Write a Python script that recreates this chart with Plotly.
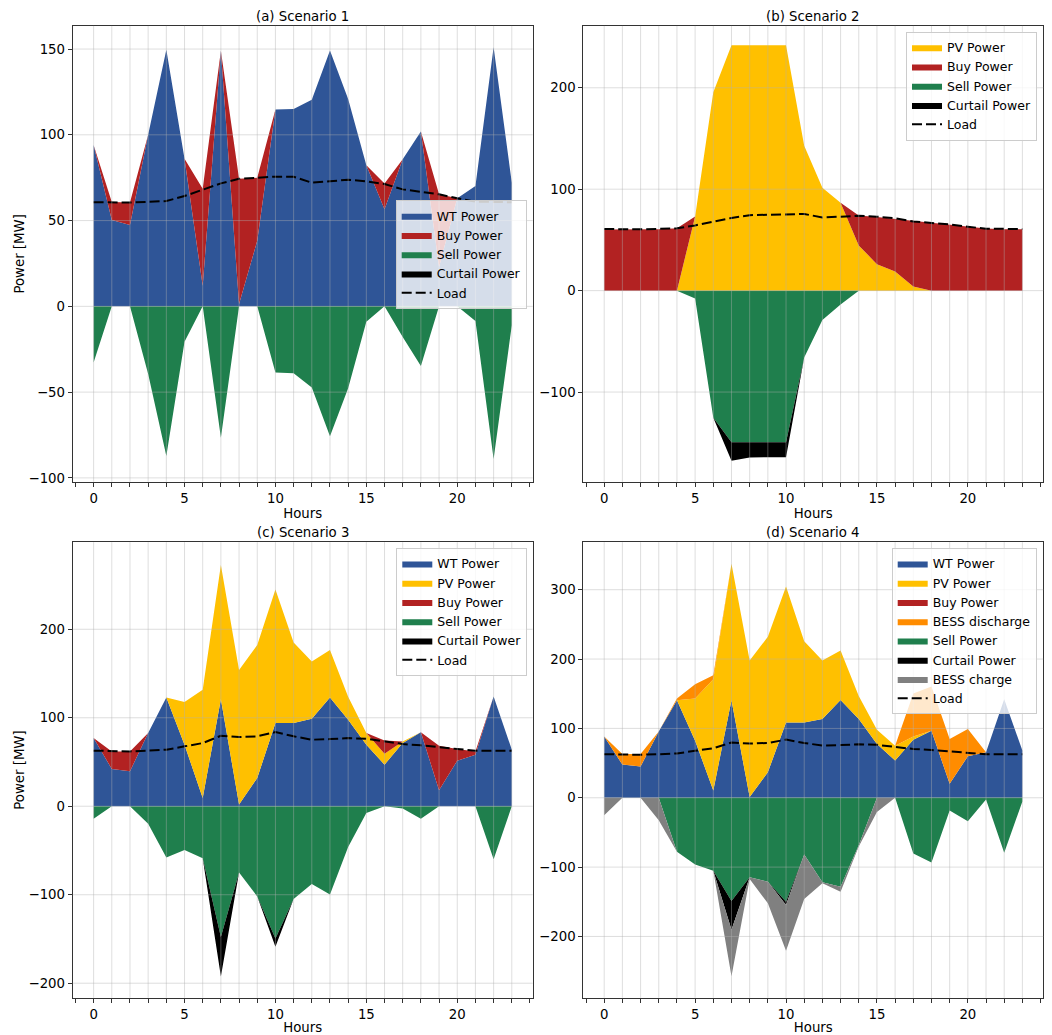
import plotly.graph_objects as go

# ---------------- data ----------------
hours = list(range(24))

load_s12 = [60.7, 60.5, 60.5, 60.9, 61.4, 64.3, 68.2, 71.7, 74.4, 75.0, 75.6, 75.6,
            72.1, 72.9, 73.8, 72.9, 71.3, 68.2, 66.7, 65.3, 63.0, 61.0, 60.9, 60.7]
load_s34 = [62.8, 62.0, 62.0, 62.8, 63.9, 67.7, 71.4, 79.7, 78.2, 79.0, 83.8, 79.0,
            75.2, 75.9, 77.0, 76.3, 73.7, 70.3, 68.8, 66.5, 64.7, 62.8, 62.8, 62.8]

# Scenario 1: wind only
wt_s1 = [94.0, 50.4, 47.5, 100.0, 149.6, 86.0, 12.0, 149.0, 1.4, 38.2, 114.7, 115.1,
         120.5, 149.2, 120.9, 82.2, 56.6, 85.7, 101.9, 23.0, 63.0, 70.2, 151.0, 72.1]
buy_s1 = [0, 10.5, 13.0, 0, 0, 0, 56.6, 0, 73.0, 36.8, 0, 0,
          0, 0, 0, 0, 15.0, 0, 0, 42.3, 0, 0, 0, 0]
sell_s1 = [32.8, 0, 0, 39.5, 87.3, 20.7, 0, 76.6, 0, 0, 38.6, 39.0,
           47.3, 75.7, 47.7, 9.0, 0, 17.8, 34.7, 0, 0, 8.5, 89.0, 11.0]
curt_s1 = [0] * 24

# Scenario 2: PV only
pv_s2 = [0, 0, 0, 0, 0, 73.0, 195.7, 242.0, 242.0, 242.0, 242.0, 142.8,
         101.5, 86.6, 44.6, 26.1, 18.8, 4.0, 0, 0, 0, 0, 0, 0]
buy_s2 = [60.2, 60.2, 60.2, 60.5, 61.5, 0, 0, 0, 0, 0, 0, 0,
          0, 0, 29.4, 46.6, 52.0, 64.4, 66.8, 65.1, 62.8, 61.2, 60.5, 60.5]
sell_s2 = [0, 0, 0, 0, 0, 7.8, 125.4, 149.5, 149.5, 149.5, 149.5, 65.8,
           29.0, 13.7, 0, 0, 0, 0, 0, 0, 0, 0, 0, 0]
curt_s2 = [0, 0, 0, 0, 0, 0, 0, 18.3, 15.0, 14.7, 14.7, 0,
           0, 0, 0, 0, 0, 0, 0, 0, 0, 0, 0, 0]

# Scenario 3: wind + PV
wt_s3 = [77.0, 42.1, 39.5, 82.7, 123.0, 69.5, 9.4, 121.0, 1.9, 32.0, 94.0, 94.0,
         98.9, 123.0, 97.7, 69.5, 47.0, 71.4, 83.5, 18.0, 51.5, 58.3, 124.0, 64.0]
pv_s3 = [0, 0, 0, 0, 0, 48.2, 122.2, 151.6, 152.1, 150.3, 151.0, 91.0,
         64.6, 53.7, 26.0, 13.2, 12.4, 1.9, 0, 0, 0, 0, 0, 0]
buy_s3 = [0, 19.9, 22.5, 0, 0, 0, 0, 0, 0, 0, 0, 0,
          0, 0, 0, 0, 15.0, 0, 0, 50.4, 13.2, 3.7, 0, 0]
sell_s3 = [14.2, 0, 0, 19.8, 58.0, 49.3, 58.7, 147.7, 74.8, 102.0, 149.5, 104.7,
           87.9, 99.8, 46.0, 7.5, 0, 2.6, 14.2, 0, 0, 0, 59.8, 0]
curt_s3 = [0, 0, 0, 0, 0, 0, 0, 44.8, 0, 0, 9.4, 0,
           0, 0, 0, 0, 0, 0, 0, 0, 0, 0, 0, 0]

# Scenario 4: wind + PV + battery
wt_s4 = [88.5, 47.8, 45.0, 95.7, 140.7, 82.3, 10.5, 140.7, 1.0, 36.8, 108.6, 108.6,
         113.4, 141.1, 113.4, 77.5, 53.6, 83.7, 96.7, 20.1, 59.8, 65.6, 142.1, 68.0]
pv_s4 = [0, 0, 0, 0, 0, 60.7, 160.3, 196.6, 197.0, 195.2, 196.2, 117.2,
         84.6, 71.3, 33.5, 20.6, 21.5, 4.8, 0, 0, 0, 0, 0, 0]
buy_s4 = [0] * 24
dis_s4 = [0, 15.4, 18.2, 0, 2.3, 20.6, 5.8, 0, 0, 0, 0, 0,
          0, 0, 0, 0, 0, 62.0, 63.6, 64.6, 39.2, 0, 0, 0]
sell_s4 = [0, 0, 0, 0, 78.0, 96.2, 105.3, 148.8, 114.8, 121.0, 149.8, 81.8,
           122.0, 128.2, 68.4, 0, 0, 80.4, 93.3, 18.2, 34.0, 2.4, 79.4, 5.3]
curt_s4 = [0, 0, 0, 0, 0, 0, 0, 41.6, 0, 0, 4.8, 0,
           0, 0, 0, 0, 0, 0, 0, 0, 0, 0, 0, 0]
chg_s4 = [25.4, 0, 0, 32.5, 0, 0, 0, 67.0, 2.4, 31.2, 66.1, 64.2,
          1.4, 7.2, 2.0, 20.6, 0, 0, 0, 0, 0, 0, 0, 0]

titles = ["(a) Scenario 1", "(b) Scenario 2", "(c) Scenario 3", "(d) Scenario 4"]
y_ranges = [[-102.3, 163.5], [-188.5, 261.0], [-216.5, 298.4], [-288.5, 368.5]]
y_ticks = [[-100, -50, 0, 50, 100, 150], [-100, 0, 100, 200],
           [-200, -100, 0, 100, 200], [-200, -100, 0, 100, 200, 300]]
x_ticks = [0, 5, 10, 15, 20]

COLORS = {
    "WT Power": "#2f5597",
    "PV Power": "#ffc000",
    "Buy Power": "#b22222",
    "BESS discharge": "#ff8c00",
    "Sell Power": "#1f7f4d",
    "Curtail Power": "#000000",
    "BESS charge": "#808080",
}

# (positive stack, negative stack, load) per panel
panels = [
    ([("WT Power", wt_s1), ("Buy Power", buy_s1)],
     [("Sell Power", sell_s1), ("Curtail Power", curt_s1)], load_s12),
    ([("PV Power", pv_s2), ("Buy Power", buy_s2)],
     [("Sell Power", sell_s2), ("Curtail Power", curt_s2)], load_s12),
    ([("WT Power", wt_s3), ("PV Power", pv_s3), ("Buy Power", buy_s3)],
     [("Sell Power", sell_s3), ("Curtail Power", curt_s3)], load_s34),
    ([("WT Power", wt_s4), ("PV Power", pv_s4), ("Buy Power", buy_s4),
      ("BESS discharge", dis_s4)],
     [("Sell Power", sell_s4), ("Curtail Power", curt_s4), ("BESS charge", chg_s4)],
     load_s34),
]

W, H = 1052, 1035
x_domains = [[72.7 / W, 532.7 / W], [583.3 / W, 1043.3 / W]]
y_domains = [[1 - 483.7 / H, 1 - 26.0 / H], [1 - 1001.7 / H, 1 - 544.3 / H]]

# legend anchor points (paper coords)
legend_pos = [
    dict(x=526.7 / W, y=1 - 255.5 / H, xanchor="right", yanchor="middle"),
    dict(x=1037.0 / W, y=1 - 31.7 / H, xanchor="right", yanchor="top"),
    dict(x=527.3 / W, y=1 - 550.0 / H, xanchor="right", yanchor="top"),
    dict(x=1036.7 / W, y=1 - 550.0 / H, xanchor="right", yanchor="top"),
]

FONT = "DejaVu Sans"
GRID = "rgba(176,176,176,0.42)"
EDGE = "#333333"

fig = go.Figure()
layout = dict(
    width=W, height=H, autosize=False,
    margin=dict(l=0, r=0, t=0, b=0),
    paper_bgcolor="white", plot_bgcolor="white",
    font=dict(family=FONT, size=13.3, color="black"),
    showlegend=True,
)
annotations = []
shapes = []

for i, (pos, neg, load) in enumerate(panels):
    r, c = divmod(i, 2)
    n = i + 1
    xa = "x" if n == 1 else f"x{n}"
    ya = "y" if n == 1 else f"y{n}"
    lg = "legend" if n == 1 else f"legend{n}"

    for name, vals in pos:
        fig.add_trace(go.Scatter(
            x=hours, y=vals, name=name, mode="lines",
            stackgroup=f"pos{n}", line=dict(width=0, color=COLORS[name]),
            fillcolor=COLORS[name], xaxis=xa, yaxis=ya, legend=lg,
        ))
    for name, vals in neg:
        fig.add_trace(go.Scatter(
            x=hours, y=[-v for v in vals], name=name, mode="lines",
            stackgroup=f"neg{n}", line=dict(width=0, color=COLORS[name]),
            fillcolor=COLORS[name], xaxis=xa, yaxis=ya, legend=lg,
        ))
    fig.add_trace(go.Scatter(
        x=hours, y=load, name="Load", mode="lines",
        line=dict(color="black", width=2, dash="10px,4px"),
        xaxis=xa, yaxis=ya, legend=lg,
    ))

    axis_x = dict(
        domain=x_domains[c], anchor=ya, range=[-1.15, 24.15],
        tickmode="array", tickvals=x_ticks,
        ticks="outside", ticklen=4, tickwidth=1, tickcolor=EDGE,
        tickfont=dict(size=13.3, family=FONT, color="black"),
        showline=True, mirror=True, linecolor=EDGE, linewidth=1,
        showgrid=False, zeroline=False,
        minor=dict(tickmode="linear", tick0=0, dtick=1, ticks="outside",
                   ticklen=4, tickwidth=1, tickcolor=EDGE, showgrid=False),
        title=dict(text="Hours", font=dict(size=13.3, family=FONT), standoff=3),
    )
    axis_y = dict(
        domain=y_domains[r], anchor=xa, range=y_ranges[i],
        tickmode="array", tickvals=y_ticks[i],
        ticks="outside", ticklen=4, tickwidth=1, tickcolor=EDGE,
        tickfont=dict(size=13.3, family=FONT, color="black"),
        showline=True, mirror=True, linecolor=EDGE, linewidth=1,
        showgrid=False, zeroline=False,
    )
    if c == 0:
        axis_y["title"] = dict(text="Power [MW]", font=dict(size=13.3, family=FONT),
                               standoff=0)
    layout["xaxis" if n == 1 else f"xaxis{n}"] = axis_x
    layout["yaxis" if n == 1 else f"yaxis{n}"] = axis_y

    layout[lg] = dict(
        **legend_pos[i],
        bgcolor="rgba(255,255,255,0.8)", bordercolor="#cccccc", borderwidth=1,
        font=dict(size=12.5, family=FONT, color="black"),
        traceorder="normal", tracegroupgap=0, itemwidth=30,
    )

    annotations.append(dict(
        text=titles[i], xref="paper", yref="paper",
        x=sum(x_domains[c]) / 2, y=y_domains[r][1],
        xanchor="center", yanchor="bottom", yshift=0, showarrow=False,
        font=dict(size=13.3, family=FONT, color="black"),
    ))

    # grid drawn over the filled areas
    for h in hours:
        shapes.append(dict(type="line", xref=xa, yref=f"{ya} domain",
                           x0=h, x1=h, y0=0, y1=1, layer="above",
                           line=dict(color=GRID, width=1)))
    for t in y_ticks[i]:
        shapes.append(dict(type="line", xref=f"{xa} domain", yref=ya,
                           x0=0, x1=1, y0=t, y1=t, layer="above",
                           line=dict(color=GRID, width=1)))

layout["annotations"] = annotations
layout["shapes"] = shapes
fig.update_layout(**layout)

fig.write_html("out.html")
